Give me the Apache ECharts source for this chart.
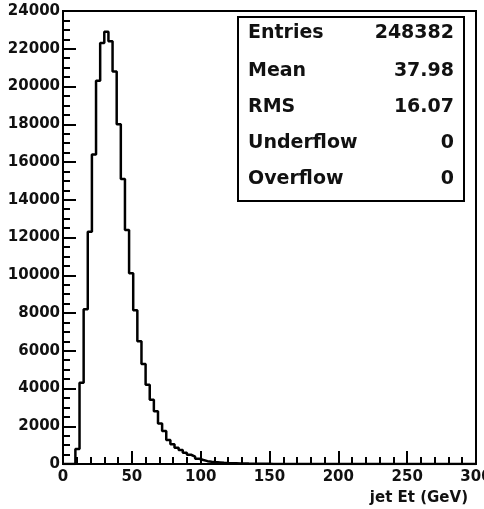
<!DOCTYPE html>
<html>
<head>
<meta charset="utf-8">
<script src="https://cdn.jsdelivr.net/npm/echarts@6/dist/echarts.min.js"></script>
<style>
html,body{margin:0;padding:0;background:#fff;}
#chart{width:484px;height:509px;}
</style>
</head>
<body>
<div id="chart"></div>
<script>
// Histogram: jet Et, 100 bins of 3 GeV from 0 to 300
var binLow = 0;
var binWidth = 3;
var counts = [
  0, 0, 0, 800, 4300, 8200, 12300, 16400, 20300, 22300,
  22900, 22400, 20800, 18000, 15100, 12400, 10100, 8150, 6500, 5300,
  4200, 3400, 2800, 2150, 1750, 1270, 1040, 860, 740, 600,
  490, 390, 280, 210, 150, 120, 100, 85, 65, 50,
  40, 35, 30, 25, 20, 18, 15, 12, 10, 8,
  6, 5, 4, 3, 2, 2, 1, 1, 1, 0,
  0, 0, 0, 0, 0, 0, 0, 0, 0, 0,
  0, 0, 0, 0, 0, 0, 0, 0, 0, 0,
  0, 0, 0, 0, 0, 0, 0, 0, 0, 0,
  0, 0, 0, 0, 0, 0, 0, 0, 0, 0
];
var xTicks = [0, 50, 100, 150, 200, 250, 300];
var yTicks = [0, 2000, 4000, 6000, 8000, 10000, 12000, 14000, 16000, 18000, 20000, 22000, 24000];
var statLabels = ['Entries', 'Mean', 'RMS', 'Underflow', 'Overflow'];
var statValues = ['248382', '37.98', '16.07', '0', '0'];
var xTitle = 'jet Et (GeV)';

var histData = [];
for (var i = 0; i < counts.length; i++) {
  histData.push([binLow + i * binWidth, counts[i]]);
}
histData.push([binLow + counts.length * binWidth, counts[counts.length - 1]]);

var font = 'DejaVu Sans';
var graphics = [
  {type: 'rect', left: 237, top: 16, shape: {width: 226, height: 184},
   style: {fill: '#fff', stroke: '#000', lineWidth: 2}, z: 100}
];
var rowY = [33, 70.5, 106.5, 142.5, 178.5];
for (var k = 0; k < statLabels.length; k++) {
  graphics.push({type: 'text', left: 248, top: rowY[k] - 9, z: 101,
    style: {text: statLabels[k], font: 'bold 19px ' + font, fill: '#111'}});
  graphics.push({type: 'text', right: 484 - 454, top: rowY[k] - 9, z: 101,
    style: {text: statValues[k], font: 'bold 19px ' + font, fill: '#111', textAlign: 'right'}});
}
graphics.push({type: 'text', right: 16, top: 491, z: 101,
  style: {text: xTitle, font: 'bold 15px ' + font, fill: '#111'}});

var chart = echarts.init(document.getElementById('chart'), null, {renderer: 'canvas'});
chart.setOption({
  animation: false,
  backgroundColor: '#fff',
  grid: {left: 63, right: 8, top: 11, bottom: 45, show: true, borderColor: '#000', borderWidth: 2,
         backgroundColor: 'transparent', containLabel: false, outerBoundsMode: 'none'},
  xAxis: {
    type: 'value', min: xTicks[0], max: xTicks[xTicks.length - 1], interval: xTicks[1] - xTicks[0],
    axisLine: {show: true, lineStyle: {color: '#000', width: 2}},
    axisTick: {show: true, inside: true, length: 13, lineStyle: {color: '#000', width: 2}},
    minorTick: {show: true, splitNumber: 5, length: 7, lineStyle: {color: '#000', width: 2}},
    splitLine: {show: false},
    axisLabel: {margin: 6, color: '#111', fontFamily: font, fontWeight: 'bold', fontSize: 15,
                showMaxLabel: true, formatter: function (v) { return String(v); }}
  },
  yAxis: {
    type: 'value', min: yTicks[0], max: yTicks[yTicks.length - 1], interval: yTicks[1] - yTicks[0],
    axisLine: {show: true, lineStyle: {color: '#000', width: 2}},
    axisTick: {show: true, inside: true, length: 13, lineStyle: {color: '#000', width: 2}},
    minorTick: {show: true, splitNumber: 4, length: 7, lineStyle: {color: '#000', width: 2}},
    splitLine: {show: false},
    axisLabel: {margin: 3, color: '#111', fontFamily: font, fontWeight: 'bold', fontSize: 15,
                formatter: function (v) { return String(v); }}
  },
  series: [{
    type: 'line', step: 'end', data: histData, symbol: 'none',
    lineStyle: {color: '#000', width: 2.5}, clip: true
  }],
  graphic: graphics
});
</script>
</body>
</html>
